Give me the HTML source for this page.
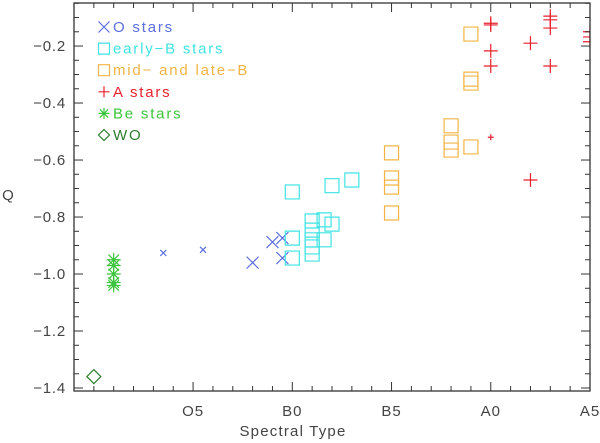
<!DOCTYPE html>
<html><head><meta charset="utf-8"><style>
body{margin:0;background:#fff}
svg{display:block;font-family:"Liberation Sans",sans-serif}
</style></head><body>
<svg id="c" width="600" height="443"></svg>
<script>
const oX=[3.5,5.5,8,9,9.5,9.5];
const oY=[-0.926,-0.915,-0.96,-0.888,-0.874,-0.944];
const oSmall=[1,1,0,0,0,0];
const ebX=[10,10,10,11,11,11,11,11,11.6,11.6,12,12,13];
const ebY=[-0.712,-0.874,-0.944,-0.814,-0.846,-0.88,-0.905,-0.93,-0.81,-0.88,-0.825,-0.69,-0.67];
const mbX=[15,15,15,15,18,18,18,19,19,19,19];
const mbY=[-0.575,-0.663,-0.695,-0.786,-0.48,-0.537,-0.565,-0.158,-0.316,-0.33,-0.554];
const aX=[20,20,20,20,20,22,22,23,23,23,23,25,25,25];
const aY=[-0.12,-0.126,-0.217,-0.27,-0.52,-0.19,-0.67,-0.095,-0.108,-0.137,-0.27,-0.15,-0.168,-0.185];
const aSmall=[0,0,0,0,1,0,0,0,0,0,0,0,0,0];
const beX=[1,1,1,1,1];
const beY=[-0.95,-0.97,-1.0,-1.03,-1.04];
const woX=[0];
const woY=[-1.36];
const xTickVals=[5,10,15,20,25];
const xTickLabels=["O5","B0","B5","A0","A5"];
const yTickVals=[-1.4,-1.2,-1.0,-0.8,-0.6,-0.4,-0.2];
const yTickLabels=["\u22121.4","\u22121.2","\u22121.0","\u22120.8","\u22120.6","\u22120.4","\u22120.2"];

const L=74,R=590,T=3,B=391,xmin=-1,xmax=25;
const ymin=-1.4105,ymax=-0.049;
function sx(v){return L+(v-xmin)/(xmax-xmin)*(R-L);}
function sy(v){return B-(v-ymin)/(ymax-ymin)*(B-T);}
const svg=document.getElementById('c');
const NS='http://www.w3.org/2000/svg';
function el(t,a,p){const e=document.createElementNS(NS,t);for(const k in a)e.setAttribute(k,a[k]);(p||svg).appendChild(e);return e;}
const COL={o:'#5b6fe0',eb:'#3fe3e3',mb:'#f2b445',a:'#e8202e',be:'#3cc43c',wo:'#2e7d2e'};

const clip=el('clipPath',{id:'cp'});el('rect',{x:L,y:T,width:R-L,height:B-T},clip);
const plot=el('g',{'clip-path':'url(#cp)'});



function sym(kind,cx,cy,h,col,g){
  let d='';
  if(kind==='x')d=`M${cx-h},${cy-h}L${cx+h},${cy+h}M${cx-h},${cy+h}L${cx+h},${cy-h}`;
  else if(kind==='+')d=`M${cx-h},${cy}L${cx+h},${cy}M${cx},${cy-h}L${cx},${cy+h}`;
  else if(kind==='sq')d=`M${cx-h},${cy-h}h${2*h}v${2*h}h${-2*h}z`;
  else if(kind==='*')d=`M${cx-h},${cy}L${cx+h},${cy}M${cx},${cy-h}L${cx},${cy+h}M${cx-h*.75},${cy-h*.75}L${cx+h*.75},${cy+h*.75}M${cx-h*.75},${cy+h*.75}L${cx+h*.75},${cy-h*.75}`;
  else if(kind==='d')d=`M${cx},${cy-h}L${cx+h},${cy}L${cx},${cy+h}L${cx-h},${cy}z`;
  return el('path',{d:d,fill:'none',stroke:col,'stroke-width':1.2},g);
}
function series(xs,ys,kind,col,size,name,small){
  const g=el('g',{},plot);
  
  
  xs.forEach((x,i)=>{
    const p=sym(kind,sx(x),sy(ys[i]),small&&small[i]?3:size,col,g);
    
    
  });
}
series(oX,oY,'x',COL.o,6,'o-stars-series',oSmall);
series(ebX,ebY,'sq',COL.eb,7,'early-b-series');
series(mbX,mbY,'sq',COL.mb,7,'mid-late-b-series');
series(aX,aY,'+',COL.a,7,'a-stars-series',aSmall);
series(beX,beY,'*',COL.be,7,'be-stars-series');
series(woX,woY,'d',COL.wo,7,'wo-series');

const fr=el('rect',{x:L,y:T,width:R-L,height:B-T,fill:'none',stroke:'#333','stroke-width':1.3});


for(let v=xmin;v<=xmax;v++){
  const major=xTickVals.indexOf(v)>=0,len=major?9:5,x=sx(v);
  el('line',{x1:x,y1:B,x2:x,y2:B-len,stroke:'#333'});
  el('line',{x1:x,y1:T,x2:x,y2:T+len,stroke:'#333'});
}
xTickVals.forEach((v,i)=>{
  const t=el('text',{x:sx(v),y:416,'text-anchor':'middle','font-size':15,fill:'#444','letter-spacing':'1'});
  t.textContent=xTickLabels[i];
  
  
});
for(let k=0;k<=28;k++){
  const v=-1.4+k*0.05,y=sy(v);if(y<T)break;
  const len=(k%4===0)?9:5;
  el('line',{x1:L,y1:y,x2:L+len,y2:y,stroke:'#333'});
  el('line',{x1:R,y1:y,x2:R-len,y2:y,stroke:'#333'});
}
yTickVals.forEach((v,i)=>{
  const t=el('text',{x:66,y:sy(v)+5,'text-anchor':'end','font-size':15,fill:'#444','letter-spacing':'0.8'});
  t.textContent=yTickLabels[i];
  
  
});
const xt=el('text',{x:293,y:436,'text-anchor':'middle','font-size':15,fill:'#444','letter-spacing':'1.2'});
xt.textContent='Spectral Type';


const yt=el('text',{x:8,y:200,'text-anchor':'middle','font-size':15,fill:'#444'});
yt.textContent='Q';



const leg=[['x',COL.o,'O stars'],['sq',COL.eb,'early\u2212B stars'],['sq',COL.mb,'mid\u2212 and late\u2212B'],['+',COL.a,'A stars'],['*',COL.be,'Be stars'],['d',COL.wo,'WO']];
const lg=el('g',{});


leg.forEach((e,i)=>{
  const y=27+i*21.6;
  const g=el('g',{},lg);
  
  
  sym(e[0],104,y,5.5,e[1],g);
  const t=el('text',{x:113,y:y+5,'font-size':15,fill:e[1],'letter-spacing':'1.8'},g);
  t.textContent=e[2];
});
</script>
</body></html>
